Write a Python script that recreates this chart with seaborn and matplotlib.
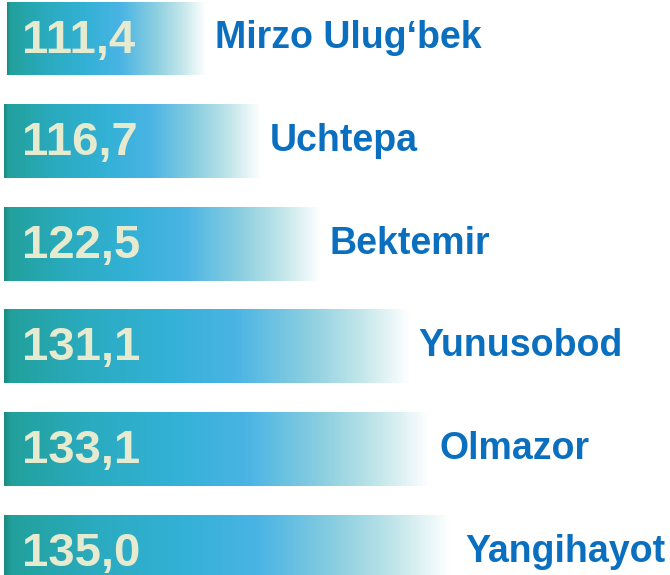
import numpy as np
import pandas as pd
import matplotlib
matplotlib.use("Agg")
import matplotlib.pyplot as plt
from matplotlib.colors import LinearSegmentedColormap
import seaborn as sns

districts = ["Mirzo Ulug‘bek", "Uchtepa", "Bektemir", "Yunusobod", "Olmazor", "Yangihayot"]
values = [111.4, 116.7, 122.5, 131.1, 133.1, 135.0]
value_labels = ["111,4", "116,7", "122,5", "131,1", "133,1", "135,0"]

df = pd.DataFrame({"district": districts, "value": values})

sns.set_theme(style="white")
plt.rcParams["font.family"] = ["Liberation Sans", "DejaVu Sans"]

# teal -> sky blue -> white, like the infographic bars
grad = LinearSegmentedColormap.from_list("bar", [
    (0.00, "#1a8c84"),
    (0.015, "#22a09c"),
    (0.20, "#2aabbf"),
    (0.40, "#33b1d6"),
    (0.57, "#4ab4e4"),
    (0.75, "#8ccfe0"),
    (0.88, "#c2e6ea"),
    (1.00, "#ffffff"),
])

X0, X1 = 91.5, 156.3
BAR_START = 91.9

fig = plt.figure(figsize=(6.7, 5.75), dpi=100)
ax = fig.add_axes([0, 0, 1, 1])
sns.barplot(data=df, x="value", y="district", orient="h", width=0.72,
            color="white", ax=ax, zorder=1)

g = np.linspace(0, 1, 256).reshape(1, -1)
for bar, v in zip(ax.patches, values):
    bar.set_facecolor("none")
    bar.set_edgecolor("none")
    y0 = bar.get_y()
    h = bar.get_height()
    start = BAR_START + (0.3 if v == values[0] else 0)
    im = ax.imshow(g, cmap=grad, aspect="auto", extent=[start, v, y0 + h, y0],
                   interpolation="bicubic", zorder=2)
    im.set_clip_path(bar)

ax.set_xlim(X0, X1)
ax.set_ylim(5.229, -0.375)

for i, (v, lab, name) in enumerate(zip(values, value_labels, districts)):
    ax.text(BAR_START + 1.7, i + 0.02, lab, ha="left", va="center",
            fontsize=34, fontweight="bold", color="#e6ebcf", zorder=3)
    if i == len(values) - 1:
        ax.text(X1 - 0.45, i, name, ha="right", va="center",
                fontsize=27, fontweight="bold", color="#0b6fc0", zorder=3)
    else:
        ax.text(v + 0.9, i, name, ha="left", va="center",
                fontsize=27, fontweight="bold", color="#0b6fc0", zorder=3)

ax.axis("off")
fig.savefig("out.png", dpi=100)
plt.close(fig)
